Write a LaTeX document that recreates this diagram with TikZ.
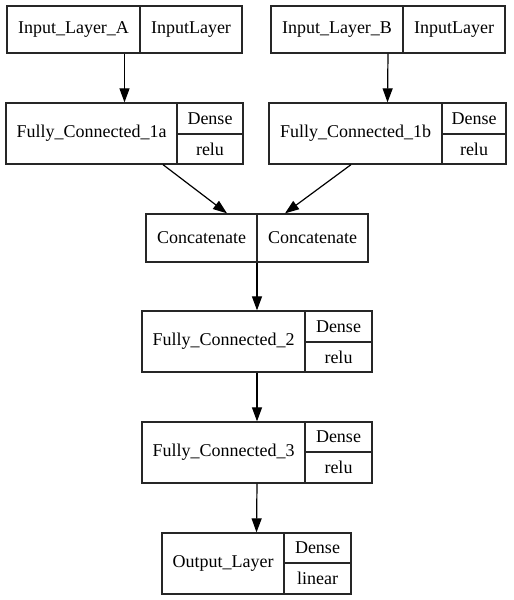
\documentclass[tikz,border=0pt]{standalone}
\usepackage{fontspec}
\setmainfont{Liberation Serif}
\usetikzlibrary{arrows.meta}

\begin{document}
\begin{tikzpicture}[x=1pt, y=-1pt, >={Triangle[length=14pt, width=10pt]},
    box/.style={draw=black!85, line width=1.3pt, inner sep=0pt},
    rule/.style={draw=black!85, line width=1.3pt},
    lbl/.style={font=\fontsize{18}{21}\selectfont, inner sep=0pt},
    link/.style={->, line width=1.2pt}]
    \useasboundingbox (0,0) rectangle (514,600);

    % Input_Layer_A
    \node[box, minimum width=235pt, minimum height=47pt] (inA) at (124.5,29.5) {};
    \draw[rule] (140,6) -- (140,53);
    \node[lbl] (inAname) at (73.5,29.5) {Input\_Layer\_A};
    \node[lbl] (inAtype) at (191,29.5) {InputLayer};

    % Input_Layer_B
    \node[box, minimum width=234pt, minimum height=47pt] (inB) at (388,29.5) {};
    \draw[rule] (403,6) -- (403,53);
    \node[lbl] (inBname) at (337,29.5) {Input\_Layer\_B};
    \node[lbl] (inBtype) at (454,29.5) {InputLayer};

    % Fully_Connected_1a
    \node[box, minimum width=237pt, minimum height=61pt] (fcA) at (124.5,133.5) {};
    \draw[rule] (177,103) -- (177,164);
    \draw[rule] (177,134) -- (243,134);
    \node[lbl] (fcAname) at (91.5,133.5) {Fully\_Connected\_1a};
    \node[lbl] (fcAtype) at (210,118.5) {Dense};
    \node[lbl] (fcAact) at (210,149) {relu};

    % Fully_Connected_1b
    \node[box, minimum width=237pt, minimum height=61pt] (fcB) at (387.5,133.5) {};
    \draw[rule] (442,103) -- (442,164);
    \draw[rule] (442,134) -- (506,134);
    \node[lbl] (fcBname) at (355.5,133.5) {Fully\_Connected\_1b};
    \node[lbl] (fcBtype) at (474,118.5) {Dense};
    \node[lbl] (fcBact) at (474,149) {relu};

    % Concatenate
    \node[box, minimum width=222pt, minimum height=48pt] (cat) at (257,238) {};
    \draw[rule] (257,214) -- (257,262);
    \node[lbl] (catname) at (201.5,238) {Concatenate};
    \node[lbl] (cattype) at (312.5,238) {Concatenate};

    % Fully_Connected_2
    \node[box, minimum width=230pt, minimum height=61pt] (fcTwo) at (257,341.5) {};
    \draw[rule] (305,311) -- (305,372);
    \draw[rule] (305,342) -- (372,342);
    \node[lbl] (fcTwoname) at (223.5,341.5) {Fully\_Connected\_2};
    \node[lbl] (fcTwotype) at (338.5,326.5) {Dense};
    \node[lbl] (fcTwoact) at (338.5,357) {relu};

    % Fully_Connected_3
    \node[box, minimum width=230pt, minimum height=61pt] (fcThree) at (257,452.5) {};
    \draw[rule] (305,422) -- (305,483);
    \draw[rule] (305,452) -- (372,452);
    \node[lbl] (fcThreename) at (223.5,452.5) {Fully\_Connected\_3};
    \node[lbl] (fcThreetype) at (338.5,437) {Dense};
    \node[lbl] (fcThreeact) at (338.5,467.5) {relu};

    % Output_Layer
    \node[box, minimum width=189pt, minimum height=61pt] (out) at (256.5,563.5) {};
    \draw[rule] (284,533) -- (284,594);
    \draw[rule] (284,563) -- (351,563);
    \node[lbl] (outname) at (223,563.5) {Output\_Layer};
    \node[lbl] (outtype) at (317.5,548) {Dense};
    \node[lbl] (outact) at (317.5,578.5) {linear};

    % Verbindungen
    \draw[link] (inA.south) -- (fcA.north);
    \draw[link] (inB.south) -- (fcB.north);
    \draw[link] ([xshift=38.5pt]fcA.south) -- ([xshift=-30pt]cat.north);
    \draw[link] ([xshift=-36.5pt]fcB.south) -- ([xshift=28pt]cat.north);
    \draw[link] (cat.south) -- (fcTwo.north);
    \draw[link] (fcTwo.south) -- (fcThree.north);
    \draw[link] (fcThree.south) -- (out.north);
\end{tikzpicture}
\end{document}
